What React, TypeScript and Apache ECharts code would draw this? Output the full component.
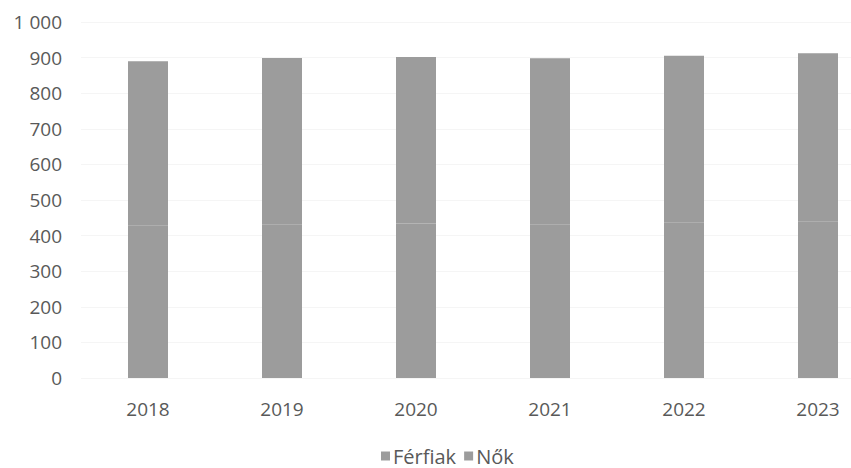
import React, { useEffect, useRef } from "react";
import * as echarts from "echarts";

const years = ["2018", "2019", "2020", "2021", "2022", "2023"];
const ferfiak = [428, 432, 434, 432, 436, 440];
const nok = [462, 467, 468, 466, 469, 472];
const yTicks = [0, 100, 200, 300, 400, 500, 600, 700, 800, 900, 1000];

const FONT = "'Open Sans', 'Liberation Sans', sans-serif";
const TXT = "#595959";
const BAR = "#9c9c9c";

export default function App() {
  const ref = useRef<HTMLDivElement>(null);
  useEffect(() => {
    if (!ref.current) return;
    const chart = echarts.init(ref.current, undefined, { renderer: "svg" });
    chart.setOption({
      animation: false,
      backgroundColor: "#ffffff",
      grid: { left: 81, right: 15, top: 22, bottom: 90, containLabel: false },
      legend: {
        top: 441,
        left: 376,
        itemWidth: 9,
        itemHeight: 9,
        itemGap: 8,
        icon: "rect",
        itemStyle: { borderWidth: 0 },
        textStyle: { color: TXT, fontSize: 20, fontFamily: FONT, padding: [0, 0, 0, -2] },
        data: ["Férfiak", "Nők"],
      },
      xAxis: {
        type: "category",
        data: years,
        axisLine: { show: false },
        axisTick: { show: false },
        axisLabel: { color: TXT, fontSize: 19, fontFamily: FONT, margin: 21 },
      },
      yAxis: {
        type: "value",
        min: yTicks[0],
        max: yTicks[yTicks.length - 1],
        interval: 100,
        axisLine: { show: false },
        axisTick: { show: false },
        splitLine: { lineStyle: { color: "#f5f5f5", width: 1 } },
        axisLabel: {
          color: TXT,
          fontSize: 19,
          fontFamily: FONT,
          margin: 19,
          formatter: (v: number) => (v >= 1000 ? "1 000" : String(v)),
        },
      },
      series: [
        {
          name: "Férfiak",
          type: "bar",
          stack: "total",
          data: ferfiak,
          barWidth: 40,
          z: 2,
          itemStyle: { color: BAR, borderColor: BAR, borderWidth: 2 },
        },
        {
          name: "Nők",
          type: "bar",
          stack: "total",
          data: nok,
          barWidth: 40,
          z: 3,
          itemStyle: { color: BAR, borderColor: BAR, borderWidth: 2 },
        },
      ],
    });
    return () => chart.dispose();
  }, []);
  return (
    <div
      style={{ position: "fixed", left: 0, top: 0, width: 851, height: 468, overflow: "hidden" }}
    >
      <div ref={ref} style={{ width: 900, height: 468 }} />
    </div>
  );
}
